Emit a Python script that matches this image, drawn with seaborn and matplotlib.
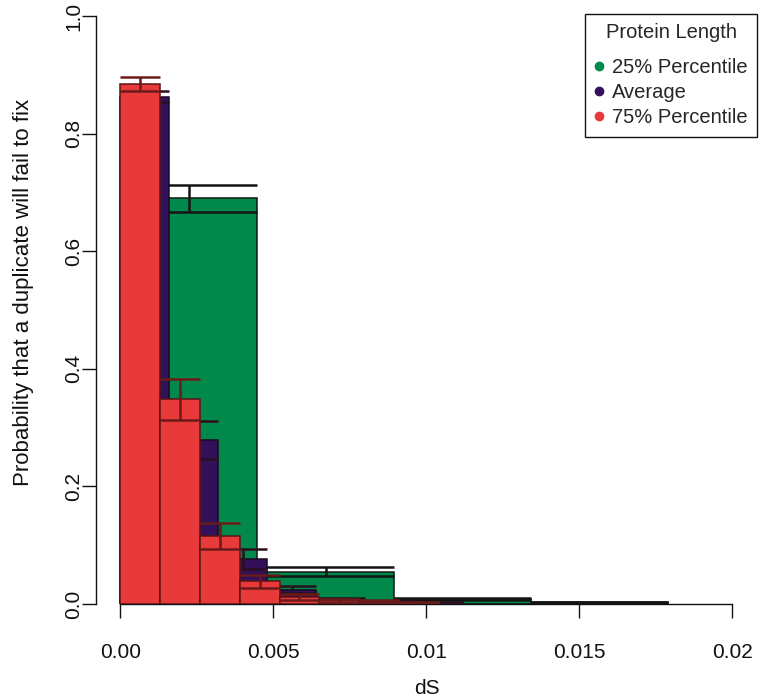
import numpy as np
import pandas as pd
import matplotlib
matplotlib.use("Agg")
import matplotlib.pyplot as plt
from matplotlib.lines import Line2D
import seaborn as sns

# ---------------- data ----------------
series_names = ["25% Percentile", "Average", "75% Percentile"]

green_edges = [0.0, 0.00447, 0.00894, 0.01341, 0.01788]
green_vals = [0.690, 0.055, 0.008, 0.003]
green_errs = [0.023, 0.008, 0.002, 0.001]

purple_edges = [0.0, 0.0016, 0.0032, 0.0048, 0.0064, 0.0080, 0.0096, 0.0112]
purple_vals = [0.863, 0.279, 0.076, 0.024, 0.007, 0.003, 0.002]
purple_errs = [0.010, 0.032, 0.017, 0.006, 0.003, 0.002, 0.001]

red_edges = [0.0, 0.0013, 0.0026, 0.0039, 0.0052, 0.0065, 0.0078, 0.0091, 0.0104]
red_vals = [0.884, 0.348, 0.115, 0.039, 0.012, 0.006, 0.004, 0.002]
red_errs = [0.012, 0.035, 0.022, 0.011, 0.005, 0.003, 0.002, 0.001]

x_ticks = [0.0, 0.005, 0.01, 0.015, 0.02]
x_tick_labels = ["0.00", "0.005", "0.01", "0.015", "0.02"]
y_ticks = [0.0, 0.2, 0.4, 0.6, 0.8, 1.0]
y_tick_labels = ["0.0", "0.2", "0.4", "0.6", "0.8", "1.0"]

# ---------------- style ----------------
sns.set_theme(style="ticks")
plt.rcParams["font.family"] = ["Liberation Sans", "DejaVu Sans"]

fig = plt.figure(figsize=(7.6, 6.98), dpi=100)
ax = fig.add_axes([0.1263, 0.1347, 0.8697, 0.8424])

styles = [
    dict(edges=green_edges, vals=green_vals, errs=green_errs,
         face="#00894A", edge="#0d1a12", err="#141414", z=1),
    dict(edges=purple_edges, vals=purple_vals, errs=purple_errs,
         face="#32105A", edge="#1a0a22", err="#2a1020", z=3),
    dict(edges=red_edges, vals=red_vals, errs=red_errs,
         face="#E8393B", edge="#5a1515", err="#6b1a1a", z=5),
]

for s in styles:
    edges = np.array(s["edges"])
    lefts = edges[:-1]
    rights = edges[1:]
    centers = (lefts + rights) / 2
    df = pd.DataFrame({"x": centers, "w": s["vals"]})
    sns.histplot(data=df, x="x", weights="w", bins=list(s["edges"]), stat="count",
                 element="bars", fill=True, color=s["face"], alpha=1.0,
                 edgecolor=s["edge"], linewidth=1.1, zorder=s["z"], ax=ax)
    vals = np.array(s["vals"])
    errs = np.array(s["errs"])
    lo = vals - errs
    hi = vals + errs
    ax.vlines(centers, lo, hi, colors=s["err"], linewidth=1.8, zorder=s["z"] + 0.5)
    ax.hlines(hi, lefts, rights, colors=s["err"], linewidth=1.8, zorder=s["z"] + 0.5)
    ax.hlines(lo, lefts, rights, colors=s["err"], linewidth=1.8, zorder=s["z"] + 0.5)

ax.set_xlim(-0.0008, 0.0208)
ax.set_ylim(0, 1.0)

sns.despine(ax=ax)
ax.spines["left"].set_bounds(0, 1)
ax.spines["bottom"].set_bounds(0, 0.02)
for sp in ("left", "bottom"):
    ax.spines[sp].set_linewidth(1.0)
    ax.spines[sp].set_color("#111111")

ax.set_xticks(x_ticks)
ax.set_xticklabels(x_tick_labels, fontsize=15)
ax.set_yticks(y_ticks)
ax.set_yticklabels(y_tick_labels, fontsize=15, rotation=90, va="center")
ax.tick_params(axis="x", length=10, width=1, pad=18, colors="#111111")
ax.tick_params(axis="y", length=10, width=1, pad=-1, colors="#111111")

ax.set_xlabel("dS", fontsize=15, color="#111111", labelpad=12)
ax.set_ylabel("Probability that a duplicate will fail to fix", fontsize=16,
              color="#111111")
ax.yaxis.set_label_coords(-0.094, 0.53)
ax.grid(False)

handles = [Line2D([], [], marker="o", ls="", color=c, markersize=6)
           for c in ["#00894A", "#32105A", "#E8393B"]]
leg = ax.legend(handles, series_names, title="Protein Length", loc="upper right",
                bbox_to_anchor=(1.0, 1.004), borderaxespad=0.0, fontsize=14.5,
                title_fontsize=14.5, frameon=True, fancybox=False,
                handletextpad=0.45, labelspacing=0.3, handlelength=0.45,
                borderpad=0.45)
leg.get_frame().set_edgecolor("#111111")
leg.get_frame().set_linewidth(1.0)
leg.get_frame().set_alpha(1.0)
try:
    leg._legend_box.sep = 12
except Exception:
    pass

fig.savefig("out.png", dpi=100)
